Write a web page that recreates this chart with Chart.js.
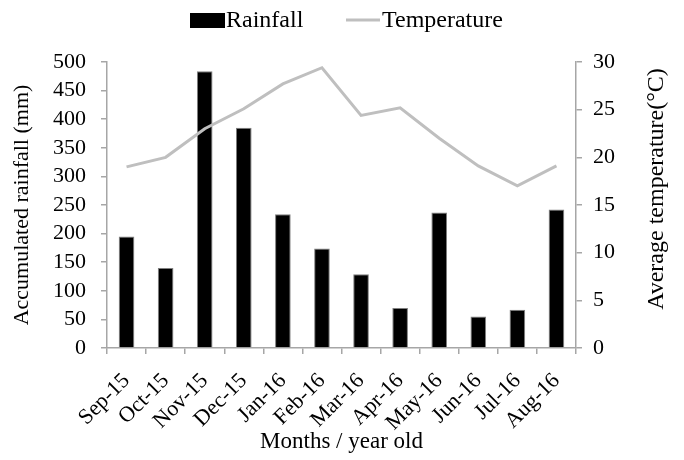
<!DOCTYPE html>
<html>
<head>
<meta charset="utf-8">
<script src="https://cdn.jsdelivr.net/npm/chart.js@4"></script>
<style>
html,body{margin:0;padding:0;background:#fff;}
#wrap{width:684px;height:460px;}
</style>
</head>
<body>
<div id="wrap"><canvas id="c" width="684" height="460"></canvas></div>
<script>
const categories = ['Sep-15','Oct-15','Nov-15','Dec-15','Jan-16','Feb-16','Mar-16','Apr-16','May-16','Jun-16','Jul-16','Aug-16'];
const rainfall = [195, 140, 484, 385, 234, 174, 129, 70, 237, 55, 67, 242];
const temperature = [19.0, 20.0, 23.0, 25.1, 27.7, 29.4, 24.4, 25.2, 22.0, 19.1, 17.0, 19.1];
const seriesNames = ['Rainfall', 'Temperature'];
const leftTitle = 'Accumulated rainfall (mm)';
const rightTitle = 'Average temperature(°C)';
const xTitle = 'Months / year old';

const FONT = "'Liberation Serif', 'Times New Roman', serif";
const AXIS = '#a6a6a6';
const LINE = '#bfbfbf';

const customDraw = {
  id: 'customDraw',
  afterDraw(chart) {
    const ctx = chart.ctx;
    ctx.save();
    // legend
    ctx.font = '24px ' + FONT;
    ctx.fillStyle = '#000';
    ctx.textBaseline = 'middle';
    ctx.textAlign = 'left';
    ctx.fillRect(190, 13, 35, 15);
    ctx.fillText(seriesNames[0], 226, 21);
    ctx.strokeStyle = LINE;
    ctx.lineWidth = 3;
    ctx.beginPath();
    ctx.moveTo(346, 20);
    ctx.lineTo(380, 20);
    ctx.stroke();
    ctx.fillText(seriesNames[1], 382, 21);
    // right axis title
    ctx.font = '24px ' + FONT;
    ctx.translate(657, 189);
    ctx.rotate(-Math.PI / 2);
    ctx.textAlign = 'center';
    ctx.fillText(rightTitle, 0, 0);
    ctx.restore();
  }
};

new Chart(document.getElementById('c'), {
  data: {
    labels: categories,
    datasets: [
      {
        type: 'bar',
        label: seriesNames[0],
        data: rainfall,
        backgroundColor: '#000',
        borderColor: '#7f7f7f',
        borderWidth: 1,
        yAxisID: 'y',
        barPercentage: 0.4,
        categoryPercentage: 1.0,
        order: 2
      },
      {
        type: 'line',
        label: seriesNames[1],
        data: temperature,
        borderColor: LINE,
        borderWidth: 3,
        pointRadius: 0,
        fill: false,
        tension: 0,
        yAxisID: 'y1',
        order: 1
      }
    ]
  },
  plugins: [customDraw],
  options: {
    responsive: false,
    animation: false,
    layout: { padding: { top: 62, left: 0, right: 0, bottom: 0 } },
    plugins: { legend: { display: false }, tooltip: { enabled: false } },
    scales: {
      x: {
        offset: true,
        grid: { offset: true, drawOnChartArea: false, drawTicks: true, tickLength: 6, color: AXIS, lineWidth: 1.5 },
        border: { color: AXIS, width: 1.5 },
        ticks: { autoSkip: false, color: '#000', font: { family: FONT, size: 22 }, maxRotation: 45, minRotation: 45, padding: 14 },
        title: { display: true, text: xTitle, color: '#000', font: { family: FONT, size: 23 }, padding: { top: 0, bottom: 4 } },
        afterFit(s) { s.height = 112; }
      },
      y: {
        position: 'left',
        min: 0, max: 500,
        ticks: { autoSkip: false, stepSize: 50, color: '#000', font: { family: FONT, size: 22 }, padding: 15 },
        grid: { drawOnChartArea: false, drawTicks: true, tickLength: 6, color: AXIS, lineWidth: 1.5 },
        border: { color: AXIS, width: 1.5 },
        title: { display: true, text: leftTitle, color: '#000', font: { family: FONT, size: 22 }, padding: { top: 9, bottom: 0 } },
        afterFit(s) { s.width = 107; }
      },
      y1: {
        position: 'right',
        min: 0, max: 30,
        ticks: { autoSkip: false, stepSize: 5, color: '#000', font: { family: FONT, size: 22 }, padding: 11 },
        grid: { drawOnChartArea: false, drawTicks: true, tickLength: 6, color: AXIS, lineWidth: 1.5 },
        border: { color: AXIS, width: 1.5 },
        afterFit(s) { s.width = 108; }
      }
    }
  }
});
</script>
</body>
</html>
